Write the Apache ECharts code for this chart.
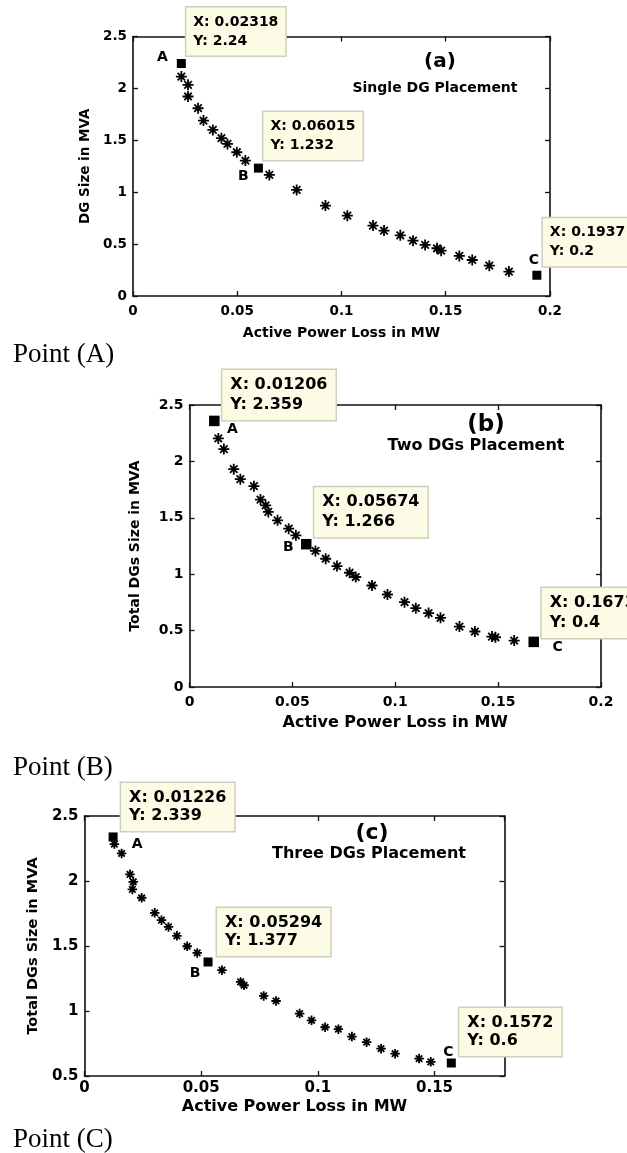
<!DOCTYPE html>
<html>
<head>
<meta charset="utf-8">
<script src="https://cdn.jsdelivr.net/npm/echarts@6/dist/echarts.min.js"></script>
<style>
  html, body { margin: 0; padding: 0; background: #fff; }
  #chart { width: 627px; height: 1153px; }
</style>
</head>
<body>
<div id="chart"></div>
<script>
// (a) single DG placement - pareto points
const lossA = [0.0232, 0.0264, 0.0264, 0.0312, 0.0338, 0.0383, 0.0424, 0.0453, 0.0498, 0.0539, 0.0654, 0.0785, 0.0923, 0.1028, 0.1151, 0.1204, 0.1282, 0.1343, 0.1401, 0.1458, 0.1478, 0.1565, 0.1627, 0.1709, 0.1803];
const sizeA = [2.114, 2.034, 1.922, 1.809, 1.690, 1.600, 1.520, 1.465, 1.385, 1.305, 1.166, 1.022, 0.871, 0.774, 0.678, 0.630, 0.585, 0.533, 0.492, 0.460, 0.437, 0.386, 0.347, 0.292, 0.235];
// (b) two DGs
const lossB = [0.0140, 0.0167, 0.0215, 0.0247, 0.0313, 0.0345, 0.0370, 0.0383, 0.0428, 0.0482, 0.0517, 0.0612, 0.0662, 0.0717, 0.0778, 0.0808, 0.0887, 0.0962, 0.1045, 0.1100, 0.1162, 0.1220, 0.1312, 0.1387, 0.1470, 0.1487, 0.1578];
const sizeB = [2.204, 2.109, 1.931, 1.842, 1.780, 1.662, 1.611, 1.552, 1.478, 1.404, 1.345, 1.206, 1.137, 1.072, 1.013, 0.975, 0.900, 0.820, 0.752, 0.699, 0.655, 0.613, 0.536, 0.492, 0.447, 0.441, 0.412];
// (c) three DGs
const lossC = [0.0128, 0.0159, 0.0195, 0.0209, 0.0205, 0.0245, 0.0301, 0.0330, 0.0360, 0.0396, 0.0440, 0.0483, 0.0589, 0.0669, 0.0684, 0.0768, 0.0821, 0.0922, 0.0973, 0.1031, 0.1088, 0.1146, 0.1209, 0.1271, 0.1331, 0.1434, 0.1484];
const sizeC = [2.284, 2.212, 2.051, 1.994, 1.935, 1.871, 1.755, 1.699, 1.647, 1.578, 1.498, 1.447, 1.314, 1.224, 1.198, 1.116, 1.077, 0.980, 0.928, 0.875, 0.860, 0.803, 0.760, 0.710, 0.672, 0.634, 0.609];

// marked points A, B, C (data tips)
const keyNames = ['A', 'B', 'C'];
const keyLossA = [0.02318, 0.06015, 0.1937];
const keySizeA = [2.24, 1.232, 0.2];
const keyLossB = [0.01206, 0.05674, 0.1673];
const keySizeB = [2.359, 1.266, 0.4];
const keyLossC = [0.01226, 0.05294, 0.1572];
const keySizeC = [2.339, 1.377, 0.6];

// axes
const xMax = [0.2, 0.2, 0.18];
const yMin = [0, 0, 0.5];
const yMax = [2.5, 2.5, 2.5];
const xStep = 0.05;
const yStep = 0.5;

const panelTags = ['(a)', '(b)', '(c)'];
const panelTitles = ['Single DG Placement', 'Two DGs Placement', 'Three DGs Placement'];
const yNames = ['DG Size in MVA', 'Total DGs Size in MVA', 'Total DGs Size in MVA'];
const xName = 'Active Power Loss in MW';
const captions = ['Point (A)', 'Point (B)', 'Point (C)'];

const FONT = 'DejaVu Sans';
const AXIS = '#111';
const STAR = 'path://M5,0L5,10M0,5L10,5M1.6,1.6L8.4,8.4M1.6,8.4L8.4,1.6';

const layout = [
  { grid: { left: 133, top: 36.5, width: 417, height: 259.5 }, tick: 13.5, xn: 14, yn: 13.5, xGap: 30, yGap: 39, lm: 8,
    star: 11, sq: 9, tipFont: 14, tipLine: 19, tipPad: [5, 7, 5, 7],
    tipOff: [[5, -56], [5, -56], [6, -57]], letOff: [[-19, -6], [-15, 8], [-3, -15]],
    tag: [440, 62, 20], title: [435, 88, 14], cap: [13, 355] },
  { grid: { left: 189.5, top: 405, width: 411.5, height: 282 }, tick: 14, xn: 16, yn: 14, xGap: 28, yGap: 47, lm: 8,
    star: 11, sq: 10.5, tipFont: 16, tipLine: 20, tipPad: [5, 8, 5, 8],
    tipOff: [[8, -51], [8, -57], [8, -54]], letOff: [[18, 8], [-18, 3], [24, 5]],
    tag: [486, 425, 23], title: [476, 446, 16], cap: [13, 768] },
  { grid: { left: 84.5, top: 816, width: 420, height: 260 }, tick: 15, xn: 16, yn: 14.5, xGap: 23, yGap: 43, lm: 5,
    star: 9.5, sq: 9, tipFont: 16, tipLine: 18, tipPad: [6, 8, 6, 8],
    tipOff: [[8, -54], [9, -54], [8, -55]], letOff: [[24, 7], [-13, 11], [-3, -11]],
    tag: [372, 833, 22], title: [369, 854, 16], cap: [13, 1140] }
];

const stars = [[lossA, sizeA], [lossB, sizeB], [lossC, sizeC]];
const keys = [[keyLossA, keySizeA], [keyLossB, keySizeB], [keyLossC, keySizeC]];

const grids = [], xAxes = [], yAxes = [], series = [], texts = [];

layout.forEach(function (p, i) {
  grids.push(p.grid);
  const line = { show: true, onZero: false, lineStyle: { color: AXIS, width: 1.6 } };
  const tickIn = { show: true, inside: true, length: 5, lineStyle: { color: AXIS, width: 1.3 } };
  const lab = { fontFamily: FONT, fontWeight: 'bold', color: '#000' };
  xAxes.push({
    gridIndex: i, type: 'value', position: 'bottom', min: 0, max: xMax[i], interval: xStep,
    name: xName, nameLocation: 'middle', nameGap: p.xGap,
    nameTextStyle: Object.assign({ fontSize: p.xn }, lab),
    axisLine: line, axisTick: tickIn, splitLine: { show: false },
    axisLabel: Object.assign({ fontSize: p.tick, margin: p.lm, showMaxLabel: xMax[i] % xStep < 1e-9 || xStep - (xMax[i] % xStep) < 1e-9 }, lab)
  });
  xAxes.push({
    gridIndex: i, type: 'value', position: 'top', min: 0, max: xMax[i], interval: xStep,
    axisLine: line, axisTick: tickIn, axisLabel: { show: false }, splitLine: { show: false }
  });
  yAxes.push({
    gridIndex: i, type: 'value', position: 'left', min: yMin[i], max: yMax[i], interval: yStep,
    name: yNames[i], nameLocation: 'middle', nameGap: p.yGap,
    nameTextStyle: Object.assign({ fontSize: p.yn }, lab),
    axisLine: line, axisTick: tickIn, splitLine: { show: false },
    axisLabel: Object.assign({ fontSize: p.tick, margin: 6 }, lab)
  });
  yAxes.push({
    gridIndex: i, type: 'value', position: 'right', min: yMin[i], max: yMax[i], interval: yStep,
    axisLine: line, axisTick: tickIn, axisLabel: { show: false }, splitLine: { show: false }
  });

  const xs = stars[i][0], ys = stars[i][1];
  series.push({
    type: 'scatter', xAxisIndex: 2 * i, yAxisIndex: 2 * i, clip: false,
    symbol: STAR, symbolSize: p.star,
    itemStyle: { color: 'rgba(0,0,0,0)', borderColor: '#000', borderWidth: 1.8, opacity: 1 },
    data: xs.map(function (x, k) { return [x, ys[k]]; })
  });

  const kx = keys[i][0], ky = keys[i][1];
  series.push({
    type: 'scatter', xAxisIndex: 2 * i, yAxisIndex: 2 * i, clip: false,
    symbol: 'rect', symbolSize: p.sq, z: 3,
    itemStyle: { color: '#000', opacity: 1 },
    data: kx.map(function (x, k) {
      return {
        value: [x, ky[k]],
        label: {
          show: true, formatter: keyNames[k],
          position: [p.letOff[k][0] + p.sq / 2, p.letOff[k][1] + p.sq / 2],
          align: 'center', verticalAlign: 'middle',
          fontFamily: FONT, fontWeight: 'bold', fontSize: 14, color: '#000', opacity: 1
        }
      };
    })
  });

  series.push({
    type: 'scatter', xAxisIndex: 2 * i, yAxisIndex: 2 * i, clip: false,
    symbol: 'rect', symbolSize: 2, z: 5, silent: true,
    itemStyle: { color: 'rgba(0,0,0,0)', opacity: 1 },
    data: kx.map(function (x, k) {
      return {
        value: [x, ky[k]],
        label: {
          show: true,
          formatter: 'X: ' + String(x) + '\nY: ' + String(ky[k]),
          position: [p.tipOff[k][0] + 1, p.tipOff[k][1] + 1],
          align: 'left', verticalAlign: 'top',
          fontFamily: FONT, fontWeight: 'bold', fontSize: p.tipFont, lineHeight: p.tipLine,
          color: '#000', backgroundColor: '#fcfce6', borderColor: '#cfcfbd', borderWidth: 1.5,
          padding: p.tipPad, opacity: 1
        }
      };
    })
  });

  texts.push({ type: 'text', x: p.tag[0], y: p.tag[1], style: { text: panelTags[i], align: 'center', verticalAlign: 'middle', font: 'bold ' + p.tag[2] + 'px "' + FONT + '"', fill: '#000' } });
  texts.push({ type: 'text', x: p.title[0], y: p.title[1], style: { text: panelTitles[i], align: 'center', verticalAlign: 'middle', font: 'bold ' + p.title[2] + 'px "' + FONT + '"', fill: '#000' } });
  texts.push({ type: 'text', x: p.cap[0], y: p.cap[1], style: { text: captions[i], align: 'left', verticalAlign: 'middle', font: '27px "Liberation Serif"', fill: '#000' } });
});

const chart = echarts.init(document.getElementById('chart'), null, { renderer: 'canvas' });
chart.setOption({
  backgroundColor: '#fff',
  animation: false,
  grid: grids,
  xAxis: xAxes,
  yAxis: yAxes,
  series: series,
  graphic: texts
});
</script>
</body>
</html>
